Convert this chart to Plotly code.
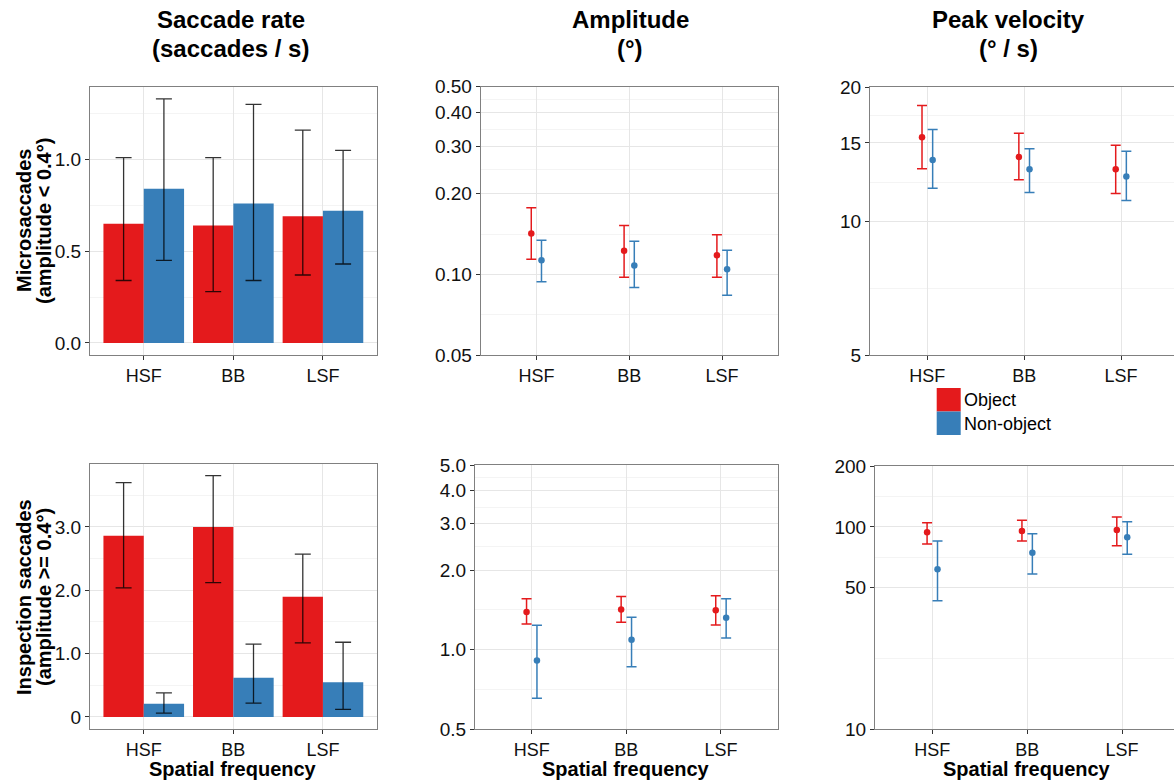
import math
import plotly.graph_objects as go

# ---------------- data ----------------
categories = ["HSF", "BB", "LSF"]
groups = ["Object", "Non-object"]
colors = {"Object": "#E41A1C", "Non-object": "#377EB8"}

# Saccade rate (saccades / s) - microsaccades
micro_rate_obj = [0.65, 0.64, 0.69]
micro_rate_obj_lo = [0.34, 0.28, 0.37]
micro_rate_obj_hi = [1.01, 1.01, 1.16]
micro_rate_non = [0.84, 0.76, 0.72]
micro_rate_non_lo = [0.45, 0.34, 0.43]
micro_rate_non_hi = [1.33, 1.30, 1.05]

# Saccade rate - inspection saccades
insp_rate_obj = [2.86, 3.00, 1.90]
insp_rate_obj_lo = [2.04, 2.12, 1.17]
insp_rate_obj_hi = [3.70, 3.81, 2.57]
insp_rate_non = [0.21, 0.62, 0.55]
insp_rate_non_lo = [0.06, 0.22, 0.12]
insp_rate_non_hi = [0.38, 1.15, 1.18]

# Amplitude (deg)
micro_amp_obj = [0.142, 0.1225, 0.118]
micro_amp_obj_lo = [0.114, 0.0977, 0.0977]
micro_amp_obj_hi = [0.177, 0.152, 0.1405]
micro_amp_non = [0.113, 0.108, 0.1045]
micro_amp_non_lo = [0.094, 0.0895, 0.0836]
micro_amp_non_hi = [0.134, 0.133, 0.123]

insp_amp_obj = [1.39, 1.42, 1.41]
insp_amp_obj_lo = [1.25, 1.27, 1.24]
insp_amp_obj_hi = [1.56, 1.59, 1.60]
insp_amp_non = [0.91, 1.09, 1.32]
insp_amp_non_lo = [0.655, 0.863, 1.107]
insp_amp_non_hi = [1.237, 1.326, 1.56]

# Peak velocity (deg / s)
micro_vel_obj = [15.45, 13.95, 13.09]
micro_vel_obj_lo = [13.13, 12.39, 11.54]
micro_vel_obj_hi = [18.2, 15.77, 14.82]
micro_vel_non = [13.74, 13.09, 12.6]
micro_vel_non_lo = [11.87, 11.6, 11.13]
micro_vel_non_hi = [16.07, 14.56, 14.37]

insp_vel_obj = [94.0, 95.4, 96.6]
insp_vel_obj_lo = [82.3, 85.2, 80.8]
insp_vel_obj_hi = [104.9, 107.8, 111.9]
insp_vel_non = [61.7, 74.6, 88.9]
insp_vel_non_lo = [43.2, 58.5, 73.2]
insp_vel_non_hi = [85.2, 92.6, 106.1]

# tick labels
rate_top_ticks = [0.0, 0.5, 1.0]
rate_top_labels = ["0.0", "0.5", "1.0"]
rate_bot_ticks = [0, 1, 2, 3]
rate_bot_labels = ["0", "1.0", "2.0", "3.0"]
amp_top_ticks = [0.05, 0.10, 0.20, 0.30, 0.40, 0.50]
amp_top_labels = ["0.05", "0.10", "0.20", "0.30", "0.40", "0.50"]
amp_bot_ticks = [0.5, 1.0, 2.0, 3.0, 4.0, 5.0]
amp_bot_labels = ["0.5", "1.0", "2.0", "3.0", "4.0", "5.0"]
vel_top_ticks = [5, 10, 15, 20]
vel_bot_ticks = [10, 50, 100, 200]

col_titles = [["Saccade rate", "(saccades / s)"], ["Amplitude", "(°)"], ["Peak velocity", "(° / s)"]]
row_titles = [["Microsaccades", "(amplitude < 0.4°)"], ["Inspection saccades", "(amplitude >= 0.4°)"]]
x_title = "Spatial frequency"

# ---------------- layout helpers ----------------
W, H = 1174, 783
FONT = "Liberation Sans, Arial, sans-serif"
GRID = "#e6e6e6"
MINOR = "#f4f4f4"
BORDER = "#808080"


def px_x(p):
    return p / W


def px_y(p):
    return 1 - p / H


fig = go.Figure()
xpos = [i + 1 for i in range(len(categories))]


def minor_log(ticks):
    return [math.sqrt(a * b) for a, b in zip(ticks[:-1], ticks[1:])]


def setup_axes(idx, xdom, ydom, xrange, yrange, ytype, yticks, ylabels, minor_vals, right_cut=False):
    xa = "xaxis" if idx == 1 else f"xaxis{idx}"
    ya = "yaxis" if idx == 1 else f"yaxis{idx}"
    yref = "y" if idx == 1 else f"y{idx}"
    xref = "x" if idx == 1 else f"x{idx}"
    fig.layout[xa] = dict(
        domain=[px_x(xdom[0]), px_x(xdom[1])], range=xrange, anchor=yref, automargin=False,
        tickmode="array", tickvals=xpos, ticktext=categories,
        showgrid=True, gridcolor=GRID, gridwidth=1, zeroline=False,
        showline=True, linecolor=BORDER, linewidth=1, mirror=True,
        ticks="outside", ticklen=4, tickcolor="#333333",
        tickfont=dict(family=FONT, size=18, color="#111111"),
    )
    fig.layout[ya] = dict(
        domain=[px_y(ydom[1]), px_y(ydom[0])], range=yrange, anchor=xref, type=ytype,
        automargin=False,
        tickmode="array", tickvals=yticks, ticktext=ylabels,
        showgrid=True, gridcolor=GRID, gridwidth=1, zeroline=False,
        showline=True, linecolor=BORDER, linewidth=1, mirror=not right_cut,
        ticks="outside", ticklen=4, tickcolor="#333333",
        tickfont=dict(family=FONT, size=19, color="#111111"),
        minor=dict(tickmode="array", tickvals=minor_vals, showgrid=True,
                   gridcolor=MINOR, gridwidth=1, ticks=""),
    )
    return xref, yref


def add_bars(xref, yref, series):
    for g, (vals, lo, hi) in zip(groups, series):
        fig.add_trace(go.Bar(
            x=xpos, y=vals, xaxis=xref, yaxis=yref, name=g,
            marker=dict(color=colors[g], line=dict(width=0)),
            showlegend=False,
            error_y=dict(type="data", symmetric=False,
                         array=[h - v for h, v in zip(hi, vals)],
                         arrayminus=[v - l for v, l in zip(vals, lo)],
                         color="rgba(0,0,0,0.8)", thickness=1.3, width=8),
        ))


dodge = {"Object": -0.055, "Non-object": 0.055}


def add_points(xref, yref, series):
    for g, (vals, lo, hi) in zip(groups, series):
        fig.add_trace(go.Scatter(
            x=[p + dodge[g] for p in xpos], y=vals, xaxis=xref, yaxis=yref,
            mode="markers", name=g, showlegend=False,
            marker=dict(color=colors[g], size=6.5, symbol="circle"),
            error_y=dict(type="data", symmetric=False,
                         array=[h - v for h, v in zip(hi, vals)],
                         arrayminus=[v - l for v, l in zip(vals, lo)],
                         color=colors[g], thickness=1.5, width=5),
        ))


# --- top-left: microsaccade rate
xr, yr = setup_axes(1, (90, 376.7), (87, 355), [0.4, 3.6], [-0.066, 1.395], "linear",
                    rate_top_ticks, rate_top_labels, [0.25, 0.75, 1.25])
add_bars(xr, yr, [(micro_rate_obj, micro_rate_obj_lo, micro_rate_obj_hi),
                  (micro_rate_non, micro_rate_non_lo, micro_rate_non_hi)])

# --- top-middle: microsaccade amplitude
xr, yr = setup_axes(2, (480.7, 777.7), (86.7, 355.3), [0.4, 3.6],
                    [math.log10(0.05), math.log10(0.5)], "log",
                    amp_top_ticks, amp_top_labels, minor_log(amp_top_ticks))
add_points(xr, yr, [(micro_amp_obj, micro_amp_obj_lo, micro_amp_obj_hi),
                    (micro_amp_non, micro_amp_non_lo, micro_amp_non_hi)])

# --- top-right: microsaccade peak velocity
xr, yr = setup_axes(3, (870, 1174), (87.3, 355.3), [0.408, 3.547],
                    [math.log10(5), math.log10(20)], "log",
                    vel_top_ticks, [str(t) for t in vel_top_ticks], minor_log(vel_top_ticks),
                    right_cut=True)
add_points(xr, yr, [(micro_vel_obj, micro_vel_obj_lo, micro_vel_obj_hi),
                    (micro_vel_non, micro_vel_non_lo, micro_vel_non_hi)])

# --- bottom-left: inspection saccade rate
xr, yr = setup_axes(4, (90, 376.7), (464.3, 729), [0.4, 3.6], [-0.19, 3.99], "linear",
                    rate_bot_ticks, rate_bot_labels, [0.5, 1.5, 2.5, 3.5])
add_bars(xr, yr, [(insp_rate_obj, insp_rate_obj_lo, insp_rate_obj_hi),
                  (insp_rate_non, insp_rate_non_lo, insp_rate_non_hi)])

# --- bottom-middle: inspection amplitude
xr, yr = setup_axes(5, (475, 777.7), (465, 729.3), [0.4, 3.6],
                    [math.log10(0.5), math.log10(5)], "log",
                    amp_bot_ticks, amp_bot_labels, minor_log(amp_bot_ticks))
add_points(xr, yr, [(insp_amp_obj, insp_amp_obj_lo, insp_amp_obj_hi),
                    (insp_amp_non, insp_amp_non_lo, insp_amp_non_hi)])

# --- bottom-right: inspection peak velocity
xr, yr = setup_axes(6, (875, 1174), (466, 729.3), [0.396, 3.548],
                    [math.log10(10), math.log10(200)], "log",
                    vel_bot_ticks, [str(t) for t in vel_bot_ticks], minor_log(vel_bot_ticks),
                    right_cut=True)
add_points(xr, yr, [(insp_vel_obj, insp_vel_obj_lo, insp_vel_obj_hi),
                    (insp_vel_non, insp_vel_non_lo, insp_vel_non_hi)])

fig.update_layout(barmode="group", bargap=0.1, bargroupgap=0.0)

# ---------------- text ----------------
annotations = []


def note(text, x, y, size, bold=False, xanchor="center", yanchor="middle", angle=0):
    annotations.append(dict(
        text=f"<b>{text}</b>" if bold else text, x=px_x(x), y=px_y(y),
        xref="paper", yref="paper", xanchor=xanchor, yanchor=yanchor,
        textangle=angle, showarrow=False, borderpad=0,
        font=dict(family=FONT, size=size, color="#000000")))


# column titles (two lines each)
for lines, cx in zip(col_titles, [231, 630, 1008]):
    note(lines[0], cx, 20, 24, bold=True)
    note(lines[1], cx, 48.5, 24, bold=True)

# row titles (rotated, two lines each)
for lines, cy in zip(row_titles, [221, 597]):
    note(lines[0], 24, cy, 20, bold=True, angle=-90)
    note(lines[1], 44, cy, 20, bold=True, angle=-90)

# x axis titles under the bottom row
for cx in [233, 626.3, 1027]:
    note(x_title, cx, 769, 20, bold=True)

# legend (key boxes + labels)
shapes = []
for i, g in enumerate(groups):
    y0 = 388 + i * 23.5
    shapes.append(dict(type="rect", xref="paper", yref="paper",
                       x0=px_x(936.7), x1=px_x(960.7), y0=px_y(y0 + 23.5), y1=px_y(y0),
                       fillcolor=colors[g], line=dict(width=0)))
    note(g, 963, y0 + 12, 18, xanchor="left")

fig.update_layout(
    width=W, height=H, margin=dict(l=0, r=0, t=0, b=0, autoexpand=False),
    paper_bgcolor="white", plot_bgcolor="white",
    annotations=annotations, shapes=shapes, showlegend=False,
)

# remove the default page margin so the figure fills the window exactly
fig.write_html("out.html",
               config={"displayModeBar": False},
               post_script="document.body.style.margin='0';document.body.style.overflow='hidden';")
